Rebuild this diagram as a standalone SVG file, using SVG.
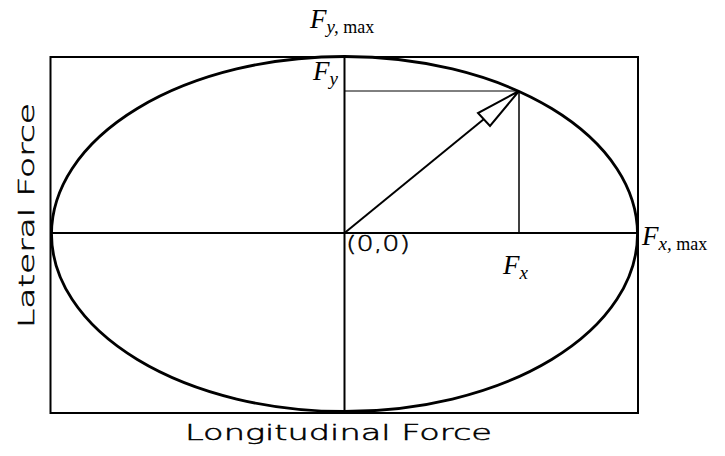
<svg xmlns="http://www.w3.org/2000/svg" width="725" height="456" viewBox="0 0 725 456">
<style>
.ln{stroke:#000;fill:none}
.m{font-family:"Liberation Serif","Times New Roman",serif;fill:#000}
.ax{font-family:"DejaVu Sans","Liberation Sans",sans-serif;fill:#000;stroke:#000;stroke-width:0.5;font-size:22px;font-weight:200}
</style>
<rect width="725" height="456" fill="#fff"/>
<g id="frame"><rect class="ln" x="50.5" y="57" width="587.5" height="356" stroke-width="2"/></g>
<g id="ellipse"><ellipse class="ln" cx="344.5" cy="234" rx="293" ry="177.5" stroke-width="2.8"/></g>
<g id="connectors">
<line class="ln" x1="344.5" y1="57" x2="344.5" y2="413" stroke-width="2"/>
<line class="ln" x1="50.5" y1="233" x2="638" y2="233" stroke-width="2"/>
<line class="ln" x1="344.5" y1="91" x2="519" y2="91" stroke-width="1"/>
<line class="ln" x1="519" y1="91" x2="519" y2="233" stroke-width="1.5"/>
<line class="ln" x1="344.5" y1="233" x2="484" y2="119" stroke-width="2"/>
<polygon class="ln" points="519,91 478,113 490,126" stroke-width="2" stroke-linejoin="miter"/>
</g>
<g id="labels">
<text class="m" x="310" y="28" font-size="27" font-style="italic">F<tspan font-size="19" dy="5">y,</tspan><tspan font-size="18" font-style="normal"> max</tspan></text>
<text class="m" x="313" y="80" font-size="27" font-style="italic">F<tspan font-size="19" dy="5">y</tspan></text>
<text class="m" x="642" y="245" font-size="27" font-style="italic">F<tspan font-size="19" dy="5">x,</tspan><tspan font-size="18" font-style="normal"> max</tspan></text>
<text class="m" x="503" y="274" font-size="27" font-style="italic">F<tspan font-size="19" dy="5">x</tspan></text>
<text class="ax" x="346" y="251" font-size="19" textLength="64" lengthAdjust="spacingAndGlyphs">(0,0)</text>
<text class="ax" x="185" y="440" textLength="307" lengthAdjust="spacingAndGlyphs">Longitudinal Force</text>
<text class="ax" transform="translate(34,328) rotate(-90)" x="0" y="0" textLength="225" lengthAdjust="spacingAndGlyphs">Lateral Force</text>
</g>
</svg>
